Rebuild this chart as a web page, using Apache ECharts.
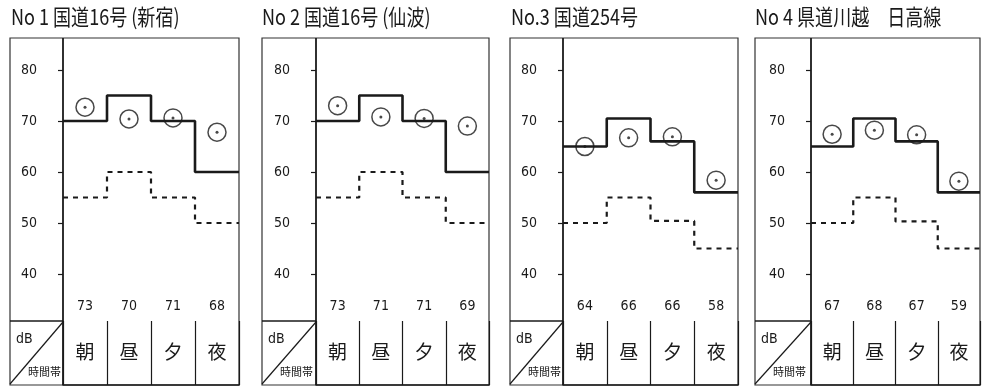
<!DOCTYPE html>
<html><head><meta charset="utf-8">
<script src="https://cdn.jsdelivr.net/npm/echarts@6/dist/echarts.min.js"></script>
<style>html,body{margin:0;padding:0;background:#fff}#c{width:987px;height:387px}</style>
</head><body><div id="c"></div>
<script>
// ---- data ----
const titles = ['No 1 国道16号 (新宿)', 'No 2 国道16号 (仙波)', 'No.3 国道254号', 'No 4 県道川越　日高線'];
const periods = ['朝', '昼', '夕', '夜'];
const yTicks = [40, 50, 60, 70, 80];
// solid step line (environmental standard)
const standard1 = [70, 75, 70, 60];
const standard2 = [70, 75, 70, 60];
const standard3 = [65, 70.5, 66, 56];
const standard4 = [65, 70.5, 66, 56];
// dashed step line
const guideline1 = [55, 60, 55, 50];
const guideline2 = [55, 60, 55, 50];
const guideline3 = [50, 55, 50.4, 45];
const guideline4 = [50, 55, 50.3, 45];
// circle positions (measured)
const measured1 = [72.7, 70.4, 70.6, 67.8];
const measured2 = [73, 70.8, 70.5, 69];
const measured3 = [65, 66.7, 66.9, 58.4];
const measured4 = [67.4, 68.2, 67.3, 58.2];
// printed measured values
const printed1 = [73, 70, 71, 68];
const printed2 = [73, 71, 71, 69];
const printed3 = [64, 66, 66, 58];
const printed4 = [67, 68, 67, 59];

const standards = [standard1, standard2, standard3, standard4];
const guidelines = [guideline1, guideline2, guideline3, guideline4];
const measureds = [measured1, measured2, measured3, measured4];
const printeds = [printed1, printed2, printed3, printed4];

// ---- layout ----
const layout = [
  {box: 10, left: 63, right: 239, title: 11},
  {box: 262, left: 316, right: 489, title: 262},
  {box: 510, left: 563, right: 738, title: 511},
  {box: 755, left: 811, right: 980, title: 755}
];
const TOP = 38, PLOT_BOTTOM = 321, BOTTOM = 385;
const INK = '#1a1a1a';
const NUMFONT = '"Liberation Sans Narrow","DejaVu Sans Condensed","Liberation Sans",sans-serif';
const CJK = '"Noto Sans CJK JP",sans-serif';

const grid = [], xAxis = [], yAxis = [], series = [], graphic = [];

layout.forEach((L, p) => {
  const w = L.right - L.left;
  const gPlot = grid.length;
  grid.push({left: L.left, width: w, top: 70, height: 204});
  const gTab = grid.length;
  grid.push({left: L.left, width: w, top: PLOT_BOTTOM, height: BOTTOM - PLOT_BOTTOM});

  const xVal = xAxis.length;
  xAxis.push({type: 'value', gridIndex: gPlot, min: 0, max: 4, show: false});
  const printed = printeds[p];
  xAxis.push({type: 'category', gridIndex: gPlot, data: periods, position: 'bottom',
    axisLine: {show: false}, axisTick: {show: false}, splitLine: {show: false},
    axisLabel: {margin: 25, fontSize: 14, color: INK, fontFamily: NUMFONT,
      formatter: (v, i) => String(printed[i])}});
  xAxis.push({type: 'category', gridIndex: gTab, data: periods, position: 'top',
    axisLine: {show: true, lineStyle: {color: INK, width: 1.5}}, axisTick: {show: false},
    splitLine: {show: true, lineStyle: {color: INK, width: 1.2}},
    axisLabel: {inside: true, margin: 21, fontSize: 19, color: INK, fontFamily: CJK}});

  const yVal = yAxis.length;
  yAxis.push({type: 'value', gridIndex: gPlot, min: yTicks[0], max: yTicks[yTicks.length - 1], interval: 10,
    axisLine: {show: false}, splitLine: {show: false},
    axisTick: {show: true, length: 5, lineStyle: {color: INK, width: 1.2}},
    axisLabel: {margin: 26, fontSize: 14, color: INK, fontFamily: NUMFONT}});
  yAxis.push({type: 'value', gridIndex: gTab, min: 0, max: 1, show: false});

  const stepData = (arr) => arr.map((v, i) => [i, v]).concat([[4, arr[arr.length - 1]]]);
  series.push({type: 'line', xAxisIndex: xVal, yAxisIndex: yVal, step: 'end', symbol: 'none',
    data: stepData(standards[p]), lineStyle: {color: INK, width: 2.6}, clip: false, z: 3});
  series.push({type: 'line', xAxisIndex: xVal, yAxisIndex: yVal, step: 'end', symbol: 'none',
    data: stepData(guidelines[p]), lineStyle: {color: INK, width: 2.2, type: [5, 5]}, clip: false, z: 3});
  const pts = measureds[p].map((v, i) => [i + 0.5, v]);
  series.push({type: 'scatter', xAxisIndex: xVal, yAxisIndex: yVal, data: pts, symbol: 'circle', symbolSize: 18,
    itemStyle: {color: 'rgba(0,0,0,0)', borderColor: INK, borderWidth: 1.5}, z: 4});
  series.push({type: 'scatter', xAxisIndex: xVal, yAxisIndex: yVal, data: pts, symbol: 'circle', symbolSize: 3,
    itemStyle: {color: INK}, z: 5});

  // frame
  graphic.push({type: 'rect', shape: {x: L.box, y: TOP, width: L.right - L.box, height: BOTTOM - TOP},
    style: {fill: 'none', stroke: '#333', lineWidth: 1.2}, silent: true});
  graphic.push({type: 'line', shape: {x1: L.left, y1: TOP, x2: L.left, y2: BOTTOM},
    style: {stroke: INK, lineWidth: 1.8}, silent: true});
  graphic.push({type: 'line', shape: {x1: L.box, y1: PLOT_BOTTOM, x2: L.left, y2: PLOT_BOTTOM},
    style: {stroke: INK, lineWidth: 1.5}, silent: true});
  graphic.push({type: 'line', shape: {x1: L.box, y1: BOTTOM - 1, x2: L.left, y2: PLOT_BOTTOM + 1},
    style: {stroke: INK, lineWidth: 1.2}, silent: true});
  graphic.push({type: 'text', x: L.box + 6, y: 332, style: {text: 'dB', font: '14px ' + NUMFONT, fill: INK}, silent: true});
  graphic.push({type: 'text', x: L.box + 18, y: 366, style: {text: '時間帯', font: '11px ' + CJK, fill: INK}, silent: true});
  graphic.push({type: 'text', x: L.title, y: 6, scaleX: 0.82,
    style: {text: titles[p], font: '22px ' + CJK, fill: INK}, silent: true});
});

const chart = echarts.init(document.getElementById('c'), null, {renderer: 'canvas'});
chart.setOption({animation: false, backgroundColor: '#fff', grid, xAxis, yAxis, series, graphic});
</script></body></html>
